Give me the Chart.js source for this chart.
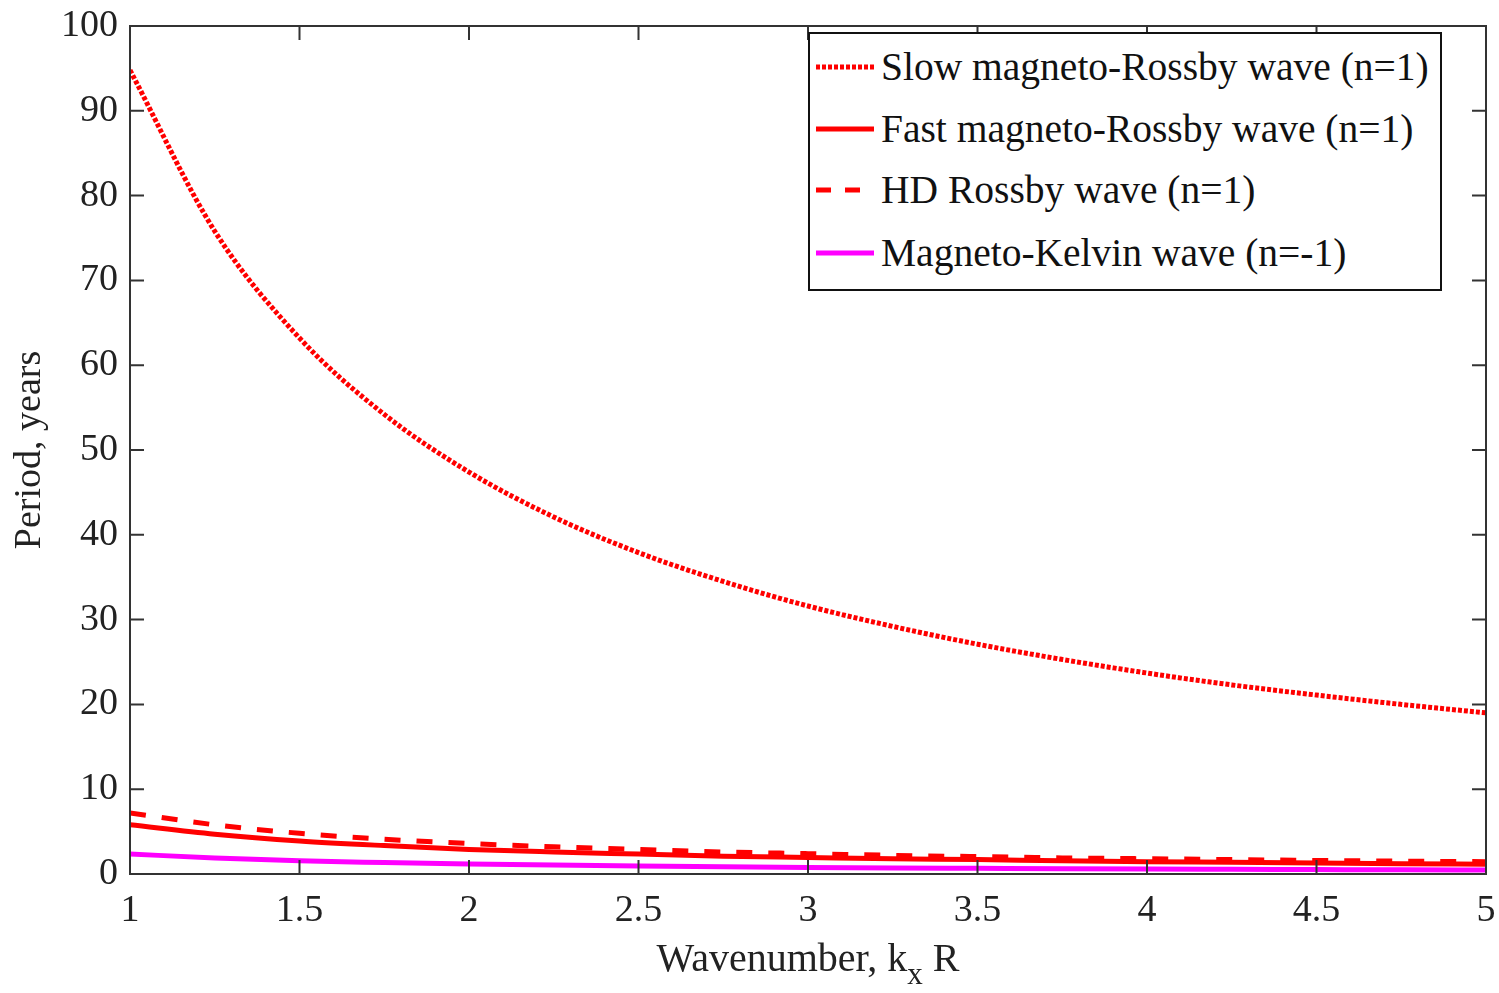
<!DOCTYPE html>
<html>
<head>
<meta charset="utf-8">
<script src="https://cdn.jsdelivr.net/npm/chart.js@4/dist/chart.umd.min.js"></script>
<style>
  html, body { margin: 0; padding: 0; background: #fff; }
  #wrap { position: relative; width: 1499px; height: 993px; }
  #c { position: absolute; left: 0; top: 0; }
  #legend {
    position: absolute; left: 808px; top: 32px; width: 630px; height: 255px;
    border: 2px solid #111; background: #fff; box-sizing: content-box;
    font-family: "Liberation Serif", "Times New Roman", serif; font-size: 39.5px; color: #111;
  }
  .row { position: absolute; left: 0; height: 50px; display: flex; align-items: center; white-space: nowrap; }
  .row svg { margin-left: 6px; margin-right: 7px; }
  #xtitle {
    position: absolute; top: 934px; left: 0; width: 1616px; text-align: center;
    font-family: "Liberation Serif", "Times New Roman", serif; font-size: 40px; color: #222;
  }
  #xtitle sub { font-size: 31px; vertical-align: -13px; line-height: 0; }
</style>
</head>
<body>
<div id="wrap">
  <canvas id="c" width="1499" height="993"></canvas>
  <div id="legend"></div>
  <div id="xtitle">Wavenumber, k<sub>x</sub> R</div>
</div>
<script>
// ---- data ----
const kx = [1, 1.25, 1.5, 1.75, 2, 2.25, 2.5, 2.75, 3, 3.25, 3.5, 3.75, 4, 4.25, 4.5, 4.75, 5];
const slowPeriod = [94.8, 75.8, 63.2, 54.2, 47.4, 42.1, 37.9, 34.5, 31.6, 29.2, 27.1, 25.3, 23.7, 22.3, 21.1, 20.0, 19.0];
const fastPeriod = [5.8, 4.7, 3.9, 3.35, 2.9, 2.6, 2.35, 2.1, 1.95, 1.8, 1.7, 1.55, 1.45, 1.38, 1.3, 1.22, 1.16];
const hdPeriod = [7.2, 5.8, 4.8, 4.1, 3.6, 3.2, 2.9, 2.6, 2.4, 2.2, 2.05, 1.9, 1.8, 1.7, 1.6, 1.52, 1.45];
const kelvinPeriod = [2.35, 1.9, 1.55, 1.35, 1.18, 1.05, 0.94, 0.85, 0.78, 0.72, 0.67, 0.62, 0.58, 0.55, 0.52, 0.49, 0.47];
const seriesLabels = ["Slow magneto-Rossby wave (n=1)", "Fast magneto-Rossby wave (n=1)", "HD Rossby wave (n=1)", "Magneto-Kelvin wave (n=-1)"];
const xTicks = [1, 1.5, 2, 2.5, 3, 3.5, 4, 4.5, 5];
const yTicks = [0, 10, 20, 30, 40, 50, 60, 70, 80, 90, 100];

const pts = arr => kx.map((x, i) => ({ x: x, y: arr[i] }));
const FONT = "'Liberation Serif', 'Times New Roman', serif";

const styles = [
  { color: '#ff0000', width: 5, dash: [4, 2] },
  { color: '#ff0000', width: 5, dash: [] },
  { color: '#ff0000', width: 5, dash: [16, 16] },
  { color: '#ff00ff', width: 5, dash: [] }
];
const values = [slowPeriod, fastPeriod, hdPeriod, kelvinPeriod];
const datasets = values.map((v, i) => ({
  label: seriesLabels[i],
  data: pts(v),
  borderColor: styles[i].color,
  borderWidth: styles[i].width,
  borderDash: styles[i].dash,
  pointRadius: 0,
  fill: false,
  cubicInterpolationMode: 'monotone'
}));

const frame = {
  id: 'frame',
  afterDraw(chart) {
    const { ctx, chartArea: a, scales } = chart;
    ctx.save();
    ctx.strokeStyle = '#333';
    ctx.lineWidth = 2;
    ctx.strokeRect(a.left, a.top, a.right - a.left, a.bottom - a.top);
    const L = 14;
    ctx.beginPath();
    xTicks.forEach(t => {
      const px = scales.x.getPixelForValue(t);
      ctx.moveTo(px, a.bottom); ctx.lineTo(px, a.bottom - L);
      ctx.moveTo(px, a.top); ctx.lineTo(px, a.top + L);
    });
    yTicks.forEach(t => {
      const py = scales.y.getPixelForValue(t);
      ctx.moveTo(a.left, py); ctx.lineTo(a.left + L, py);
      ctx.moveTo(a.right, py); ctx.lineTo(a.right - L, py);
    });
    ctx.stroke();
    ctx.restore();
  }
};

const zeroPad = s => { s.paddingLeft = 0; s.paddingRight = 0; s.paddingTop = 0; s.paddingBottom = 0; };

new Chart(document.getElementById('c'), {
  type: 'line',
  data: { datasets },
  options: {
    responsive: false,
    animation: false,
    layout: { padding: { top: 26, right: 13, left: 0, bottom: 0 } },
    plugins: { legend: { display: false }, tooltip: { enabled: false } },
    scales: {
      x: {
        type: 'linear', min: 1, max: 5,
        afterFit: s => { s.height = 119; zeroPad(s); },
        afterBuildTicks: s => { s.ticks = xTicks.map(v => ({ value: v })); },
        grid: { display: false, drawTicks: false },
        border: { display: false },
        ticks: { color: '#222', font: { family: FONT, size: 38 }, padding: 14, maxRotation: 0,
                 callback: v => String(v) }
      },
      y: {
        min: 0, max: 100,
        afterFit: s => { s.width = 130; zeroPad(s); },
        afterBuildTicks: s => { s.ticks = yTicks.map(v => ({ value: v })); },
        grid: { display: false, drawTicks: false },
        border: { display: false },
        ticks: { color: '#222', font: { family: FONT, size: 38 }, padding: 12 },
        title: { display: true, text: 'Period, years', color: '#222', font: { family: FONT, size: 38 }, padding: { top: 7, bottom: 0 } }
      }
    }
  },
  plugins: [frame]
});

// HTML legend built from the series labels and styles
const leg = document.getElementById('legend');
const rowTops = [8, 70, 131, 194];
seriesLabels.forEach((lab, i) => {
  const r = document.createElement('div');
  r.className = 'row';
  r.style.top = rowTops[i] + 'px';
  const st = styles[i];
  const dash = i === 0 ? '4,2' : (i === 2 ? '15,14' : 'none');
  r.innerHTML = '<svg width="58" height="10"><line x1="0" y1="5" x2="58" y2="5" stroke="' + st.color +
    '" stroke-width="' + st.width + '" stroke-dasharray="' + dash + '"/></svg><span>' + lab + '</span>';
  leg.appendChild(r);
});
</script>
</body>
</html>
